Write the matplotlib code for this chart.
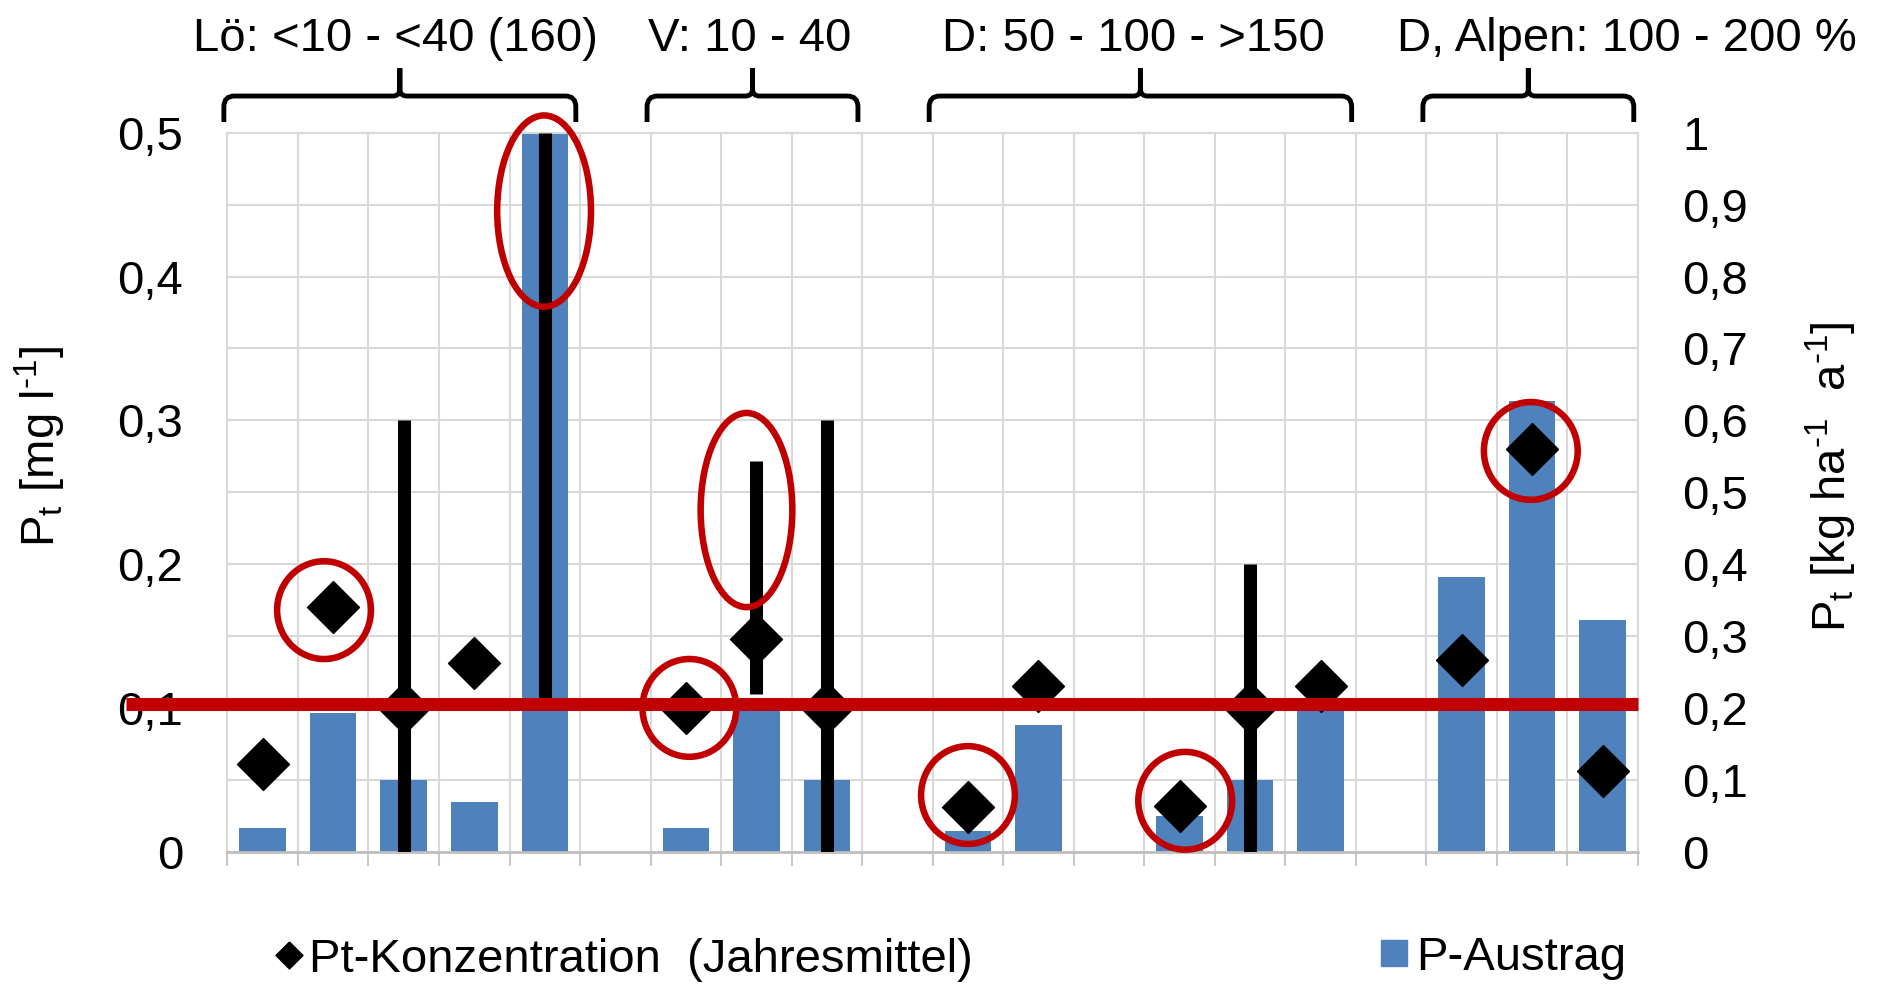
import numpy as np
import matplotlib.pyplot as plt
from matplotlib.lines import Line2D
from matplotlib.patches import Ellipse, PathPatch
from matplotlib.path import Path

plt.rcParams['font.family'] = 'Liberation Sans'
plt.rcParams['mathtext.fontset'] = 'custom'
plt.rcParams['mathtext.rm'] = 'Liberation Sans'
plt.rcParams['mathtext.it'] = 'Liberation Sans:italic'

nan = np.nan
# P-Austrag [kg ha-1 a-1] per Standort, Luecken zwischen den Regionen
austrag = [0.033, 0.193, 0.1, 0.069, 1.0, nan,
           0.033, 0.2, 0.1, nan,
           0.029, 0.176, nan, 0.049, 0.1, 0.2, nan,
           0.382, 0.627, 0.322]
# Pt-Konzentration, Jahresmittel [mg l-1]
konz = [0.061, 0.17, 0.1, 0.131, nan, nan,
        0.1, 0.148, 0.1, nan,
        0.031, 0.115, nan, 0.032, 0.1, 0.115, nan,
        0.133, 0.28, 0.056]
# Schwankungsbreite der Konzentration
spanne_x = [2, 4, 7, 8, 14]
spanne_min = [0.0, 0.1, 0.11, 0.0, 0.0]
spanne_max = [0.3, 0.5, 0.272, 0.3, 0.2]
grenzwert = 0.103

gruppen = ['Lö: <10 - <40 (160)', 'V: 10 - 40', 'D: 50 - 100 - >150',
           'D, Alpen: 100 - 200 %']
gruppe_von = [0, 6, 10, 17]
gruppe_bis = [4, 8, 15, 19]
titel_x = [1.88, 6.90, 12.34, 19.34]

# markierte Werte (x, y, Breite, Hoehe)
markiert = [(3.99, 0.4455, 1.33, 0.133), (0.87, 0.168, 1.33, 0.068),
            (6.86, 0.2376, 1.30, 0.135), (6.05, 0.100, 1.33, 0.068),
            (10.0, 0.0394, 1.33, 0.068), (13.08, 0.0354, 1.33, 0.068),
            (17.98, 0.2787, 1.33, 0.068)]

x = np.arange(len(austrag))
raute = [(0, 1), (1, 0), (0, -1), (-1, 0), (0, 1)]
blau = '#4F81BD'
rot = '#C00000'
gitter = '#D9D9D9'
fs = 34

fig = plt.figure(figsize=(18.79, 9.84), dpi=100)
ax_b = fig.add_axes([0.12102, 0.13445, 0.75072, 0.73069])
ax_c = ax_b.twinx()

# Balken (rechte Achse)
ax_b.bar(x, np.array(austrag, dtype=float), width=0.66, color=blau, zorder=2)
ax_b.set_xlim(-0.5, len(austrag) - 0.5)
ax_b.set_ylim(0, 1)
ax_b.set_xticks(np.arange(-0.5, len(austrag), 1))
ax_b.set_xticklabels([])
rechts = np.round(np.arange(0, 1.01, 0.1), 1)
ax_b.set_yticks(rechts, ['0' if v == 0 else ('1' if v == 1 else f'{v:.1f}'.replace('.', ',')) for v in rechts])
ax_b.yaxis.tick_right()
ax_b.tick_params(axis='y', length=0, pad=31.7, labelsize=fs)
ax_b.tick_params(axis='x', direction='out', length=10, width=1.5, color='#C8C8C8')
ax_b.grid(True, color=gitter, linewidth=1.5)
ax_b.set_axisbelow(True)
for s in ['left', 'right', 'top']:
    ax_b.spines[s].set_color(gitter)
    ax_b.spines[s].set_linewidth(1.5)
ax_b.spines['bottom'].set_color('#BFBFBF')
ax_b.spines['bottom'].set_linewidth(2)

# Konzentration (linke Achse)
ax_c.yaxis.tick_left()
ax_c.set_ylim(0, 0.5)
links = np.round(np.arange(0, 0.51, 0.1), 1)
ax_c.set_yticks(links, ['0' if v == 0 else f'{v:.1f}'.replace('.', ',') for v in links])
ax_c.tick_params(axis='y', length=0, pad=31.7, labelsize=fs)
for s in ax_c.spines.values():
    s.set_visible(False)

lc = ax_c.vlines(spanne_x, spanne_min, spanne_max, colors='black', linewidth=9.4, zorder=2)
lc.set_capstyle('butt')
ax_c.plot(x, konz, linestyle='none', marker=raute, markersize=37.4, color='black', zorder=3)
ax_c.plot([-1.94, len(austrag) - 0.5], [grenzwert, grenzwert], color=rot, linewidth=9.4,
          solid_capstyle='butt', clip_on=False, zorder=4)

for ex, ey, ew, eh in markiert:
    ax_c.add_patch(Ellipse((ex, ey), ew, eh, fill=False, edgecolor=rot, linewidth=4.7,
                           clip_on=False, zorder=5))

# geschweifte Klammern ueber den Regionen
trans = ax_c.get_xaxis_transform()
ye, yh, yt = 1.0149, 1.051, 1.0895
rx, ry = 0.15, 0.015
rt, rty = 0.1, 0.01
for von, bis, tx, name in zip(gruppe_von, gruppe_bis, titel_x, gruppen):
    L, R = von - 0.55, bis + 0.44
    M = (L + R) / 2
    verts = [(L, ye), (L, yh - ry), (L, yh), (L + rx, yh), (M - rt, yh), (M, yh),
             (M, yh + rty), (M, yt), (M, yh + rty), (M, yh), (M + rt, yh),
             (R - rx, yh), (R, yh), (R, yh - ry), (R, ye)]
    codes = [Path.MOVETO, Path.LINETO, Path.CURVE3, Path.CURVE3, Path.LINETO,
             Path.CURVE3, Path.CURVE3, Path.LINETO, Path.LINETO, Path.CURVE3,
             Path.CURVE3, Path.LINETO, Path.CURVE3, Path.CURVE3, Path.LINETO]
    ax_c.add_patch(PathPatch(Path(verts, codes), transform=trans, fill=False,
                             linewidth=3.5, edgecolor='black', clip_on=False))
    ax_c.text(tx, 1.1143, name, transform=trans, ha='center', va='baseline',
              fontsize=fs, clip_on=False)

# Achsentitel
fig.text(0.0213, 0.5457, r'P$_\mathrm{t}$ [mg l$^{\text{-}1}$]', rotation=90,
         ha='center', va='center', fontsize=fs)
fig.text(0.9745, 0.5152, r'P$_\mathrm{t}$ [kg ha$^{\text{-}1}$  a$^{\text{-}1}$]', rotation=90,
         ha='center', va='center', fontsize=fs)

# Legende
h1 = Line2D([], [], linestyle='none', marker=raute, markersize=19.4, color='black')
h2 = Line2D([], [], linestyle='none', marker='s', markersize=18.7, color=blau)
fig.legend([h1], ['Pt-Konzentration  (Jahresmittel)'], loc='center left',
           bbox_to_anchor=(0.14635, 0.0245), frameon=False, borderpad=0,
           borderaxespad=0, handlelength=0.6, handletextpad=0.13, fontsize=fs)
fig.legend([h2], ['P-Austrag'], loc='center left',
           bbox_to_anchor=(0.73443, 0.0265), frameon=False, borderpad=0,
           borderaxespad=0, handlelength=0.6, handletextpad=0.17, fontsize=fs)

fig.savefig('out.png', dpi=100)
